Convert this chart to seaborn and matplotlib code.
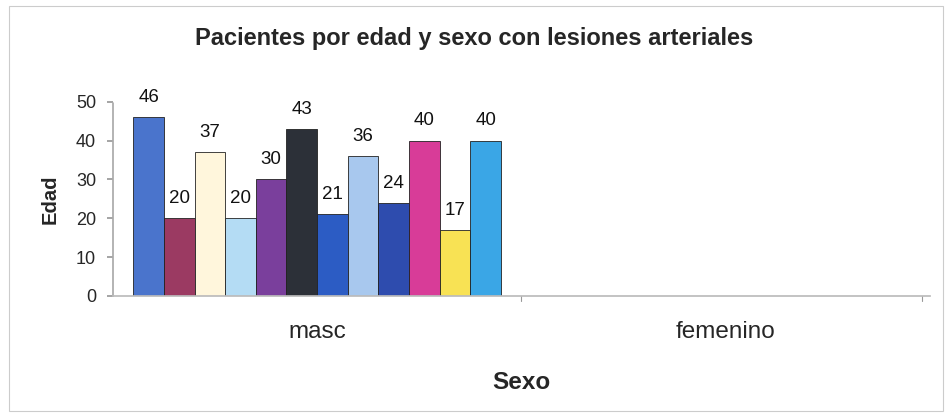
import matplotlib
matplotlib.use("Agg")
import matplotlib.pyplot as plt
import seaborn as sns
import pandas as pd
import numpy as np

categories = ["masc", "femenino"]
pacientes = [f"P{i}" for i in range(1, 13)]
edades_masc = [46, 20, 37, 20, 30, 43, 21, 36, 24, 40, 17, 40]
edades_fem = [np.nan] * 12
colors = ["#4a74cc", "#9b3a62", "#fff6dc", "#b4dcf4", "#7a3f9c", "#2c3038",
          "#2c5cc4", "#a8c8ee", "#2e4cae", "#d83c98", "#f8e254", "#3aa6e6"]

rows = []
for p, v in zip(pacientes, edades_masc):
    rows.append({"Sexo": "masc", "Paciente": p, "Edad": v})
for p, v in zip(pacientes, edades_fem):
    rows.append({"Sexo": "femenino", "Paciente": p, "Edad": v})
df = pd.DataFrame(rows)

sns.set_theme(style="white")
plt.rcParams["font.family"] = ["Liberation Sans", "DejaVu Sans"]

fig = plt.figure(figsize=(9.48, 4.15), dpi=100)
ax = fig.add_axes([0.119, 0.287, 0.862, 0.468])

sns.barplot(data=df, x="Sexo", y="Edad", hue="Paciente", order=categories,
            hue_order=pacientes, palette=colors, width=0.9, legend=False,
            saturation=1, edgecolor="#222222", linewidth=0.6, ax=ax, errorbar=None)

for c in ax.containers:
    ax.bar_label(c, fmt="%.0f", padding=8, fontsize=13.5, color="#111111", clip_on=False)

ax.set_ylim(0, 50)
ax.set_yticks([0, 10, 20, 30, 40, 50])
ax.set_xlim(-0.5, 1.5)
ax.set_xticks([0, 1])
ax.set_xticklabels(categories, fontsize=17.5)
ax.tick_params(axis="x", length=0, pad=18)
ax.tick_params(axis="y", length=4, pad=8, labelsize=13, left=True, color="#999999")
for x in [0.5, 1.48]:
    ax.plot([x, x], [0, -1.2], color="#999999", lw=0.8, clip_on=False)

for s in ["top", "right"]:
    ax.spines[s].set_visible(False)
ax.spines["left"].set_color("#aaaaaa")
ax.spines["left"].set_linestyle((0, (1, 1)))
ax.spines["bottom"].set_color("#bbbbbb")

ax.set_ylabel("Edad", fontsize=14.5, fontweight="bold", labelpad=12)
ax.set_xlabel("Sexo", fontsize=17.5, fontweight="bold", labelpad=20)
fig.suptitle("Pacientes por edad y sexo con lesiones arteriales", fontsize=17,
             fontweight="bold", y=0.935, x=0.5)

fig.patches.append(plt.Rectangle((0.01, 0.01), 0.985, 0.975, transform=fig.transFigure,
                                 fill=False, edgecolor="#cccccc", lw=0.8))

fig.savefig("out.png", dpi=100)
